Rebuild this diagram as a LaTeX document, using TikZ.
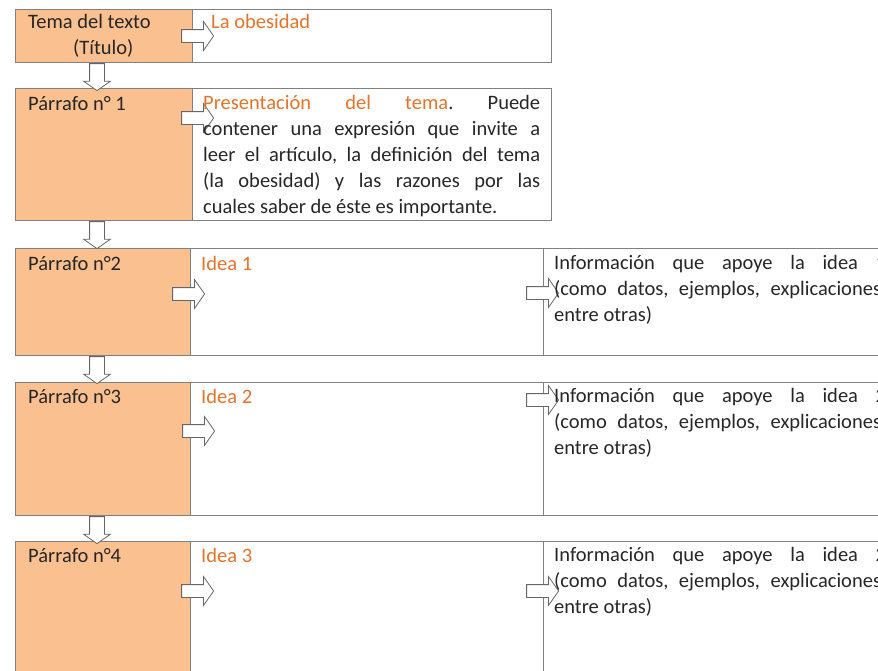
\documentclass[tikz,border=0pt]{standalone}
\usepackage{fontspec}
\setmainfont{Carlito}
\usetikzlibrary{shapes.arrows}
\usetikzlibrary{calc}
\usetikzlibrary{positioning}

\definecolor{naranja}{HTML}{FAC090}
\definecolor{naranjo}{HTML}{E5732A}
\definecolor{borde}{HTML}{808080}
\tikzset{
	caja/.style={draw=borde, line width=1.2pt, anchor=north west, inner sep=0pt},
	tema/.style={caja, fill=naranja},
	texto/.style={anchor=north west, inner sep=0pt, font=\fontsize{20.5}{26}\selectfont\frenchspacing, text=black!85, align=left},
	parrafo/.style={texto, align=justify},
	flechader/.style={single arrow, draw=black!60, fill=white, line width=0.8pt, inner sep=6pt, minimum height=32pt, single arrow head extend=8pt, single arrow tip angle=110, anchor=tail},
	flechabaj/.style={flechader, inner sep=7pt, minimum height=27pt, single arrow head extend=6pt, shape border rotate=270},
}

\begin{document}
\begin{tikzpicture}[x=1pt,y=-1pt]
	\useasboundingbox (0,0) rectangle (878,670);
	\clip (0,0) rectangle (878,670);
	% cajas
	\node[tema, minimum width=177pt, minimum height=53pt] (t0) at (15,9) {};%0
	\node[caja, minimum width=359pt, minimum height=53pt] (b0) at (192,9) {};
	\node[tema, minimum width=177pt, minimum height=132pt] (p1) at (15,88) {};%1
	\node[caja, minimum width=359pt, minimum height=132pt] (b1) at (192,88) {};
	\node[tema, minimum width=175pt, minimum height=107pt] (p2) at (15,248) {};%2
	\node[caja, minimum width=353pt, minimum height=107pt] (m2) at (190,248) {};
	\node[caja, minimum width=360pt, minimum height=107pt] (r2) at (543,248) {};
	\node[tema, minimum width=175pt, minimum height=133pt] (p3) at (15,382) {};%3
	\node[caja, minimum width=353pt, minimum height=133pt] (m3) at (190,382) {};
	\node[caja, minimum width=360pt, minimum height=133pt] (r3) at (543,382) {};
	\node[tema, minimum width=175pt, minimum height=160pt] (p4) at (15,541) {};%4
	\node[caja, minimum width=353pt, minimum height=160pt] (m4) at (190,541) {};
	\node[caja, minimum width=360pt, minimum height=160pt] (r4) at (543,541) {};
	% flechas hacia abajo
	\node[flechabaj] (d01) at ($(t0.south west)+(82,0)$) {};
	\node[flechabaj] (d12) at ($(p1.south west)+(82,0)$) {};
	\node[flechabaj] (d23) at ($(p2.south west)+(82,0)$) {};
	\node[flechabaj] (d34) at ($(p3.south west)+(82,0)$) {};
	% flechas a la derecha
	\node[flechader] (a0) at ($(t0.north east)+(-12,27)$) {};
	\node[flechader] (a1) at ($(p1.north east)+(-12,30)$) {};
	\node[flechader] (a2) at ($(p2.north east)+(-19,46)$) {};
	\node[flechader] (c2) at ($(m2.north east)+(-18,45)$) {};
	\node[flechader] (a3) at ($(p3.north east)+(-9,49)$) {};
	\node[flechader] (c3) at ($(m3.north east)+(-18,18)$) {};
	\node[flechader] (a4) at ($(p4.north east)+(-10,50)$) {};
	\node[flechader] (c4) at ($(m4.north east)+(-18,50)$) {};
	% textos
	\node[texto] (tt0) at (28,14) {Tema del texto\\\hspace*{45pt}(Título)};
	\node[texto, text=naranjo] (tb0) at (211,14) {La obesidad};
	\node[texto] (tp1) at (28,96) {Párrafo n° 1};
	\node[parrafo, text width=337pt] (tb1) at (203,95) {\textcolor{naranjo}{Presentación del tema}. Puede\linebreak contener una expresión que invite a\linebreak leer el artículo, la definición del tema\linebreak (la obesidad) y las razones por las\linebreak cuales saber de éste es importante.};
	\node[texto] (tp2) at (28,256) {Párrafo n°2};
	\node[texto, text=naranjo] (ti2) at (201,256) {Idea 1};
	\node[parrafo, text width=332pt] (tr2) at (554,255) {Información que apoye la idea 1\linebreak (como datos, ejemplos, explicaciones,\linebreak entre otras)};
	\node[texto] (tp3) at (28,389) {Párrafo n°3};
	\node[texto, text=naranjo] (ti3) at (201,389) {Idea 2};
	\node[parrafo, text width=332pt] (tr3) at (554,388) {Información que apoye la idea 2\linebreak (como datos, ejemplos, explicaciones,\linebreak entre otras)};
	\node[texto] (tp4) at (28,548) {Párrafo n°4};
	\node[texto, text=naranjo] (ti4) at (201,548) {Idea 3};
	\node[parrafo, text width=332pt] (tr4) at (554,547) {Información que apoye la idea 2\linebreak (como datos, ejemplos, explicaciones,\linebreak entre otras)};
\end{tikzpicture}
\end{document}
